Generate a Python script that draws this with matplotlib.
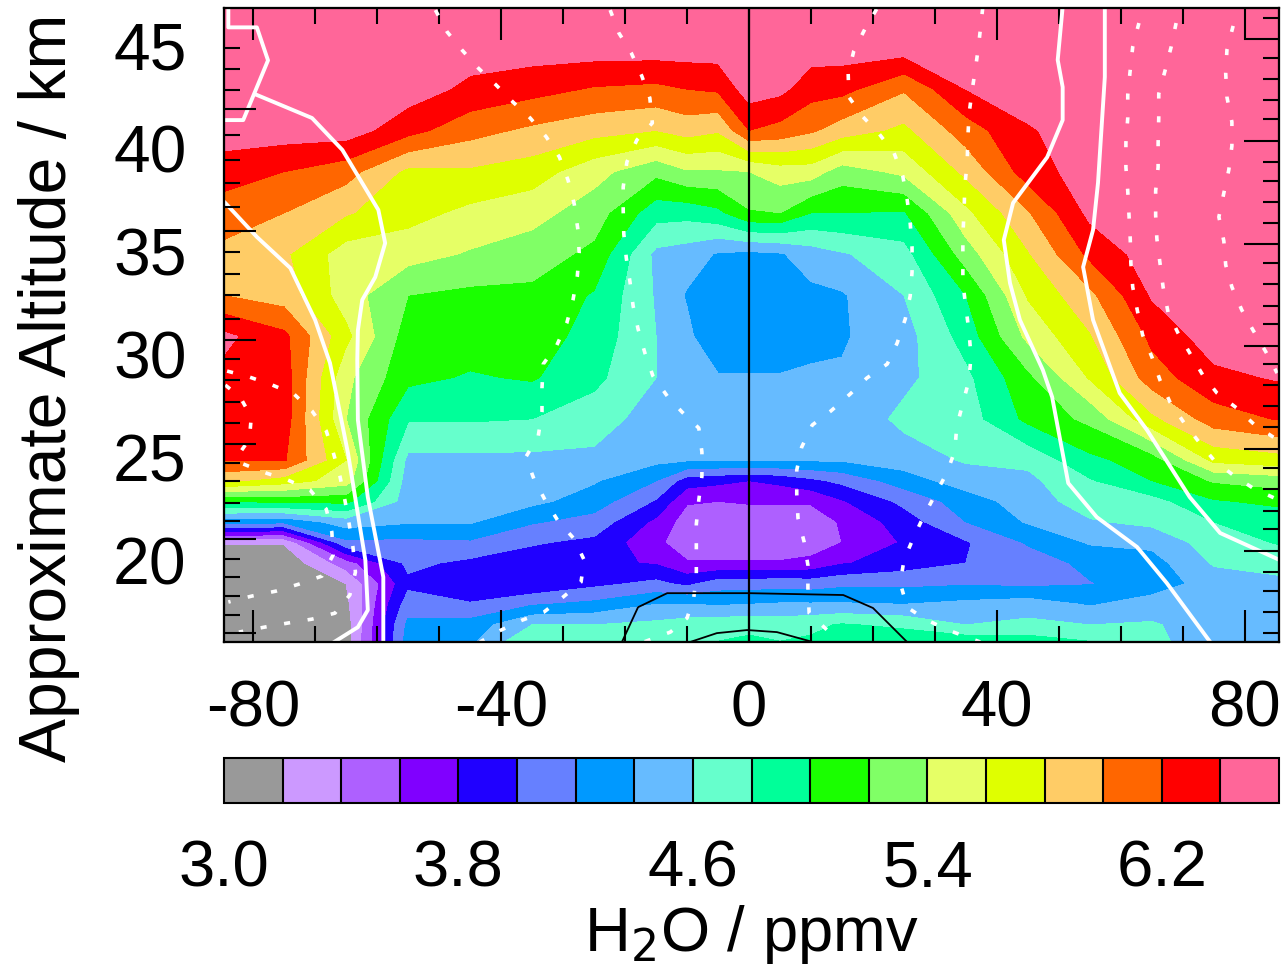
import matplotlib

matplotlib.use("Agg")
import matplotlib.pyplot as plt
from matplotlib.colors import BoundaryNorm, ListedColormap
from matplotlib.transforms import ScaledTranslation
import numpy as np

plt.rcParams["font.family"] = ["Liberation Sans", "DejaVu Sans"]

levels = [3.0, 3.2, 3.4, 3.6, 3.8, 4.0, 4.2, 4.4, 4.6, 4.8, 5.0, 5.2, 5.4, 5.6, 5.8, 6.0, 6.2, 6.4, 6.6]
colors = ["#999999", "#CC99FF", "#AE60FF", "#8000FF", "#2000FF", "#6680FF", "#0099FF", "#66BBFF", "#66FFCC",
          "#00FF99", "#1AFF00", "#80FF66", "#E6FF66", "#DFFF00", "#FFCC66", "#FF6600", "#FF0000", "#FF6699"]

lats = [-85, -75, -65, -55, -45, -35, -25, -15, -10, -5, 0, 5, 10, 15, 25, 35, 45, 55, 65, 75, 86]
alts = [47, 45, 43, 41, 39, 37, 35, 33, 31, 29, 27, 25, 24, 23, 22, 21, 20, 19, 18, 17, 16]

# H2O in ppmv, one list per latitude, top to bottom
h2o_s85 = [6.5, 6.5, 6.5, 6.5, 6.3, 6.1, 5.95, 6.0, 6.45, 6.35, 6.3, 6.2, 5.85, 5.0, 4.3, 3.22, 3.05, 3.05, 3.05, 3.05, 3.05]
h2o_s75 = [6.5, 6.5, 6.5, 6.5, 6.2, 6.0, 5.83, 5.9, 6.25, 6.3, 6.3, 6.22, 5.7, 5.05, 4.25, 3.22, 3.05, 3.05, 3.05, 3.05, 3.05]
h2o_s65 = [6.5, 6.5, 6.5, 6.5, 6.08, 5.82, 5.5, 5.5, 5.65, 5.45, 5.4, 5.6, 5.5, 5.05, 4.5, 4.15, 3.5, 3.2, 3.15, 3.1, 3.1]
h2o_s55 = [6.5, 6.5, 6.5, 6.27, 5.75, 5.67, 5.48, 5.2, 5.1, 5.05, 4.82, 4.55, 4.5, 4.5, 4.42, 4.15, 4.05, 3.95, 4.1, 4.25, 4.3]
h2o_s45 = [6.5, 6.5, 6.35, 6.07, 5.77, 5.55, 5.38, 5.15, 5.1, 4.98, 4.82, 4.55, 4.5, 4.5, 4.42, 4.17, 3.95, 3.82, 4.02, 4.28, 4.38]
h2o_s35 = [6.5, 6.5, 6.27, 5.96, 5.7, 5.47, 5.3, 5.15, 5.1, 5.02, 4.8, 4.55, 4.5, 4.45, 4.22, 4.02, 3.9, 3.82, 4.18, 4.6, 4.85]
h2o_s25 = [6.5, 6.5, 6.18, 5.87, 5.47, 5.3, 5.15, 4.98, 4.92, 4.85, 4.7, 4.55, 4.42, 4.3, 4.12, 3.95, 3.85, 3.95, 4.25, 4.6, 4.8]
h2o_s15 = [6.5, 6.5, 6.15, 5.8, 5.25, 4.88, 4.55, 4.58, 4.6, 4.6, 4.5, 4.45, 4.2, 3.98, 3.75, 3.65, 3.78, 4.05, 4.4, 4.65, 4.72]
h2o_s10 = [6.5, 6.5, 6.2, 5.88, 5.38, 4.87, 4.5, 4.38, 4.45, 4.5, 4.5, 4.42, 3.9, 3.62, 3.5, 3.47, 3.62, 3.95, 4.4, 4.7, 4.8]
h2o_s05 = [6.5, 6.5, 6.23, 5.82, 5.38, 4.95, 4.38, 4.3, 4.22, 4.42, 4.5, 4.42, 3.85, 3.6, 3.48, 3.45, 3.62, 4.1, 4.38, 4.72, 4.82]
h2o_eq = [6.5, 6.5, 6.5, 6.2, 5.4, 5.18, 4.35, 4.28, 4.22, 4.42, 4.5, 4.42, 3.8, 3.62, 3.48, 3.45, 3.62, 4.1, 4.4, 4.75, 4.85]
h2o_n05 = [6.5, 6.5, 6.45, 6.13, 5.5, 5.2, 4.38, 4.3, 4.22, 4.42, 4.5, 4.42, 3.85, 3.62, 3.48, 3.45, 3.62, 4.12, 4.42, 4.72, 4.82]
h2o_n10 = [6.5, 6.5, 6.28, 6.03, 5.5, 5.0, 4.5, 4.35, 4.3, 4.45, 4.5, 4.42, 3.95, 3.62, 3.5, 3.5, 3.65, 4.1, 4.42, 4.75, 4.85]
h2o_n15 = [6.5, 6.5, 6.26, 5.9, 5.3, 5.0, 4.58, 4.38, 4.38, 4.42, 4.45, 4.42, 4.05, 3.78, 3.62, 3.6, 3.78, 4.15, 4.42, 4.82, 4.9]
h2o_n25 = [6.5, 6.5, 6.02, 5.75, 5.45, 4.98, 4.72, 4.6, 4.52, 4.55, 4.65, 4.5, 4.3, 4.05, 3.9, 3.82, 3.9, 4.15, 4.4, 4.75, 5.0]
h2o_n35 = [6.5, 6.5, 6.4, 6.1, 5.85, 5.55, 5.3, 5.0, 4.88, 4.75, 4.7, 4.62, 4.5, 4.3, 4.2, 3.98, 4.0, 4.18, 4.45, 4.6, 5.0]
h2o_n45 = [6.5, 6.5, 6.5, 6.38, 6.3, 5.98, 5.78, 5.62, 5.45, 5.15, 5.05, 4.65, 4.55, 4.5, 4.42, 4.22, 4.1, 4.15, 4.5, 4.65, 4.95]
h2o_n55 = [6.5, 6.5, 6.5, 6.5, 6.5, 6.45, 6.25, 5.95, 5.78, 5.62, 5.25, 4.95, 4.78, 4.7, 4.58, 4.42, 4.25, 4.19, 4.38, 4.6, 4.85]
h2o_n65 = [6.5, 6.5, 6.5, 6.5, 6.5, 6.5, 6.5, 6.42, 6.25, 6.1, 5.75, 5.1, 5.0, 4.72, 4.65, 4.45, 4.32, 4.28, 4.5, 4.62, 4.65]
h2o_n75 = [6.5, 6.5, 6.5, 6.5, 6.5, 6.5, 6.5, 6.5, 6.5, 6.35, 6.1, 5.65, 5.22, 4.98, 4.8, 4.7, 4.62, 4.5, 4.5, 4.5, 4.5]
h2o_n85 = [6.5, 6.5, 6.5, 6.5, 6.5, 6.5, 6.5, 6.5, 6.5, 6.42, 6.22, 5.72, 5.3, 5.05, 4.88, 4.82, 4.68, 4.55, 4.5, 4.5, 4.5]

# white solid contours (lat, alt)
w1_lat = [-84.0, -84.0, -79.4, -77.6, -81.6, -84.5]
w1_alt = [47.0, 46.0, 46.0, 44.4, 41.5, 41.5]
w2_lat = [-79.4, -70.5, -65.6, -59.8, -58.7, -60.3, -62.4, -63.1, -63.2, -63.1, -61.5, -59.0, -59.0]
w2_alt = [42.72, 41.6, 40.05, 37.14, 35.53, 33.88, 32.77, 31.3, 29.85, 26.94, 23.2, 19.32, 16.1]
w3_lat = [-84.5, -79.4, -74.0, -70.0, -67.6, -64.7, -61.9, -61.5, -63.1, -67.3]
w3_alt = [37.48, 35.83, 34.32, 31.8, 29.71, 25.34, 20.15, 17.72, 16.89, 16.1]
w4_lat = [50.6, 49.8, 50.6, 50.6, 48.1, 42.6, 41.1, 42.1, 43.7, 47.4, 48.9, 51.5, 56.1, 62.6, 67.4, 74.4]
w4_alt = [47.0, 44.42, 43.1, 41.5, 39.7, 37.48, 35.68, 33.59, 31.8, 29.37, 28.06, 23.88, 22.23, 20.78, 19.03, 16.17]
w5_lat = [57.4, 57.4, 56.3, 55.5, 53.9, 55.5, 59.8, 64.2, 71.1, 76.0, 85.6]
w5_alt = [47.0, 43.59, 38.45, 36.17, 34.37, 31.8, 28.25, 26.46, 23.2, 21.46, 20.15]

# black contours near the equator
b1_lat = [-20.5, -17.9, -13.2, 0, 15.2, 20, 25.5]
b1_alt = [16.17, 17.86, 18.54, 18.54, 18.45, 17.82, 16.17]
b2_lat = [-9.5, -5.2, -0.3, 4.5, 10.3]
b2_alt = [16.17, 16.6, 16.75, 16.65, 16.17]

# white dashed contours
d1_lat = [-50.6, -48.7, -46.3, -43.7, -40.8, -38.1, -35.3, -32.7, -30.6, -29.2, -28.2, -27.6, -27.4, -27.7, -28.4, -29.4,
          -31.0, -33.2, -33.4, -33.4, -34.0, -36.0, -34.7, -32.9, -30.8, -28.2, -26.6, -27.1, -30.0, -33.1, -36.6, -40, -43.4]
d1_alt = [46.84, 45.78, 44.9, 44.03, 43.2, 42.38, 41.6, 40.68, 39.71, 38.59, 37.43, 36.17, 35.05, 33.93, 32.77, 31.65,
          30.58, 29.66, 28.5, 27.33, 26.17, 25.15, 24.08, 23.06, 22.04, 21.17, 20.15, 19.08, 18.35, 17.62, 17.23, 16.75, 16.17]
d2_lat = [-22.4, -21.0, -19.0, -17.3, -16.0, -15.6, -18.1, -19.7, -20.3, -20.3, -20.2, -19.8, -19.2, -18.7, -17.9, -16.8,
          -15.5, -13.2, -10.8, -8.1, -7.6, -7.6, -8.1, -8.5, -8.5, -8.5, -8.9, -10, -12.7, -17.6]
d2_alt = [46.84, 45.73, 44.76, 43.64, 42.57, 41.36, 40.53, 39.47, 38.25, 37.14, 35.97, 34.81, 33.64, 32.48, 31.36, 30.2,
          29.08, 28.11, 27.33, 26.55, 25.39, 24.22, 23.06, 21.89, 20.73, 19.51, 18.35, 17.33, 16.65, 16.1]
d3_lat = [20.6, 18.7, 16.9, 16.0, 16.1, 18.4, 21.0, 23.4, 24.8, 25.5, 26, 26.3, 26.3, 26, 25.2, 23.9, 22.3, 19.0, 16.3,
          13.2, 10.2, 8.5, 7.7, 7.7, 7.9, 8.9, 9.5, 9.5, 9.7, 12.6, 14.7]
d3_alt = [46.89, 45.92, 44.85, 43.74, 42.62, 41.65, 40.83, 39.9, 38.79, 37.67, 36.5, 35.34, 34.13, 32.96, 31.84, 30.68,
          29.66, 28.98, 28.2, 27.38, 26.7, 25.63, 24.51, 23.35, 22.18, 21.02, 19.9, 18.79, 17.57, 16.75, 16.1]
d4_lat = [37.7, 37.1, 36.6, 36, 35.5, 35.3, 35.2, 34.8, 34.7, 34.5, 34.5, 34.5, 35, 35.5, 35.8, 35.5, 34.5, 33.5, 33.2,
          31.9, 30, 28.1, 26.5, 25, 24.4, 25.5, 28.4, 32.1, 37.3]
d4_alt = [46.94, 45.29, 44.13, 42.96, 41.8, 40.63, 39.47, 38.25, 37.09, 35.92, 34.76, 33.59, 32.38, 31.21, 30.05, 28.88,
          27.77, 26.6, 25.44, 24.37, 23.3, 22.23, 21.21, 20.15, 19.03, 17.86, 17.28, 16.75, 16.17]
d5_lat = [62.9, 61.9, 61.5, 61.1, 61.1, 60.8, 60.8, 61.1, 61.3, 61.5, 61.6, 61.9, 62.7, 63.5, 65, 66.3, 67.9, 70.2, 72.6,
          75, 78.1, 81.3, 84.8]
d5_alt = [46.21, 45.05, 43.93, 42.72, 41.6, 40.39, 39.22, 38.06, 36.89, 35.73, 34.56, 33.4, 32.18, 31.07, 30.0, 28.88,
          27.82, 26.8, 25.87, 25.0, 24.27, 23.64, 23.15]
d6_lat = [68.9, 68.1, 67.1, 66.1, 66.1, 66, 66, 65.6, 65.6, 65.8, 66.3, 66.8, 67.6, 69.2, 71.1, 73.2, 75.5, 78.7, 81.6, 84.8]
d6_alt = [46.21, 45.05, 43.88, 42.77, 41.6, 40.39, 39.22, 38.06, 36.89, 35.73, 34.56, 33.4, 32.18, 31.17, 30.2, 29.13,
          28.25, 27.52, 26.7, 26.07]
d7_lat = [78.1, 77.1, 76.9, 77.1, 77.9, 77.9, 77.4, 76.6, 75.8, 76.6, 76.9, 77.9, 79.5, 81.3, 83.4, 85.2]
d7_alt = [46.07, 44.9, 43.79, 42.62, 41.41, 40.24, 39.08, 37.96, 36.8, 35.63, 34.47, 33.4, 32.28, 31.31, 30.24, 29.22]
d8_lat = [-84.2, -80.6, -76.9, -73.4, -70.5, -68.2, -67.1, -66, -65.2, -64.5, -63.9, -63.5, -64.4, -66.8, -70.5, -74.4, -78.2, -82.3]
d8_alt = [29.32, 29.03, 28.64, 28.2, 27.38, 26.41, 25.39, 24.22, 23.06, 21.89, 20.78, 19.56, 18.45, 17.57, 17.28, 17.09, 16.89, 16.65]
d9_lat = [-84.5, -82.1, -80.3, -80.6, -82.6, -81.6, -77.9, -74.4, -70.8, -68.2, -67.3, -67.1, -68.9, -72.6, -76.3, -80.2, -84]
d9_alt = [28.64, 28.06, 27.09, 26.02, 25.15, 24.81, 24.37, 24.03, 23.54, 22.62, 21.5, 20.39, 19.37, 18.98, 18.64, 18.4, 18.11]

alt_labels = [20, 25, 30, 35, 40, 45]
lat_labels = [-80, -40, 0, 40, 80]
lat_minor = [-70, -60, -50, -30, -20, -10, 10, 20, 30, 50, 60, 70]
left_major = [42.04, 36.12, 30.83, 25.78, 21.17, 16.6]
left_minor = [45.0, 43.98, 42.96, 40.78, 39.56, 38.45, 37.28, 35.1, 34.03, 33.01, 31.84, 29.9, 28.88, 27.82, 26.8,
              24.85, 23.98, 22.91, 22.04, 20.2, 19.32, 18.4, 17.48]
right_major = [45.44, 40.48, 35.48, 30.53, 25.53, 20.58]
right_minor = [46.46, 44.51, 43.49, 42.48, 41.55, 39.47, 38.54, 37.52, 36.51, 34.56, 33.54, 32.48, 31.6, 29.66, 28.64,
               27.62, 26.6, 24.61, 23.59, 22.52, 21.65, 19.56, 18.64, 17.62, 16.6]
cbar_ticks = [3.0, 3.8, 4.6, 5.4, 6.2]

W, H = 1286, 975
fig = plt.figure(figsize=(W / 100, H / 100), dpi=100)
ax = fig.add_axes([224 / W, 1 - 642 / H, 1055 / W, 634 / H])
cax = fig.add_axes([224 / W, 1 - 803 / H, 1055 / W, 45 / H])

h2o = np.column_stack([h2o_s85, h2o_s75, h2o_s65, h2o_s55, h2o_s45, h2o_s35, h2o_s25, h2o_s15, h2o_s10, h2o_s05, h2o_eq,
                       h2o_n05, h2o_n10, h2o_n15, h2o_n25, h2o_n35, h2o_n45, h2o_n55, h2o_n65, h2o_n75, h2o_n85])
cmap = ListedColormap(colors)
norm = BoundaryNorm(levels, cmap.N)
cf = ax.contourf(lats, alts, h2o, levels=levels, cmap=cmap, norm=norm)

for x, y in [(w1_lat, w1_alt), (w2_lat, w2_alt), (w3_lat, w3_alt), (w4_lat, w4_alt), (w5_lat, w5_alt)]:
    ax.plot(x, y, color="white", lw=2.8)
for x, y in [(d1_lat, d1_alt), (d2_lat, d2_alt), (d3_lat, d3_alt), (d4_lat, d4_alt), (d5_lat, d5_alt),
             (d6_lat, d6_alt), (d7_lat, d7_alt), (d8_lat, d8_alt), (d9_lat, d9_alt)]:
    ax.plot(x, y, color="white", lw=2.6, ls=(0, (1.7, 4.9)))
for x, y in [(b1_lat, b1_alt), (b2_lat, b2_alt)]:
    ax.plot(x, y, color="black", lw=1.3)
ax.axvline(0, color="black", lw=1.6)

ax.set_xlim(-84.7, 85.5)
ax.set_ylim(16.17, 46.94)

ax.set_xticks(lat_labels)
ax.set_xticklabels([str(v) for v in lat_labels])
ax.set_xticks(lat_minor, minor=True)
ax.tick_params(axis="x", which="major", direction="in", top=True, length=23, width=1.5, labelsize=47, pad=27)
ax.tick_params(axis="x", which="minor", direction="in", top=True, length=11.5, width=1.5)
ax.set_yticks(alt_labels)
ax.tick_params(axis="y", which="major", length=0, labelsize=47.5, pad=27)
for lab in ax.get_yticklabels():
    lab.set_transform(lab.get_transform() + ScaledTranslation(0, 2 / 72, fig.dpi_scale_trans))
fig.text(49 / W, 1 - 388 / H, "Approximate Altitude / km", fontsize=47.5, rotation=90, ha="center", va="center")

# tick marks on both sides sit off the labelled altitudes
left = ax.twinx()
left.set_ylim(ax.get_ylim())
left.yaxis.tick_left()
left.set_yticks(left_major)
left.set_yticks(left_minor, minor=True)
left.set_yticklabels([])
left.tick_params(axis="y", which="major", direction="in", length=23, width=1.5, labelleft=False)
left.tick_params(axis="y", which="minor", direction="in", length=11.5, width=1.5)
right = ax.twinx()
right.set_ylim(ax.get_ylim())
right.set_yticks(right_major)
right.set_yticks(right_minor, minor=True)
right.set_yticklabels([])
right.tick_params(axis="y", which="major", direction="in", length=25, width=1.5)
right.tick_params(axis="y", which="minor", direction="in", length=11.5, width=1.5)

for a in (ax, left, right, cax):
    for s in a.spines.values():
        s.set_linewidth(1.5)

cb = fig.colorbar(cf, cax=cax, orientation="horizontal", ticks=cbar_ticks, drawedges=True)
cb.dividers.set_color("black")
cb.dividers.set_linewidth(1.5)
cb.outline.set_linewidth(1.5)
cb.ax.set_xticklabels([f"{v:.1f}" for v in cbar_ticks])
cb.ax.tick_params(axis="x", length=0, labelsize=47, pad=26)
cb.ax.minorticks_off()
cb.set_label("H$_2$O / ppmv", fontsize=45.5, labelpad=3)

fig.savefig("out.png", dpi=100)
plt.close(fig)
